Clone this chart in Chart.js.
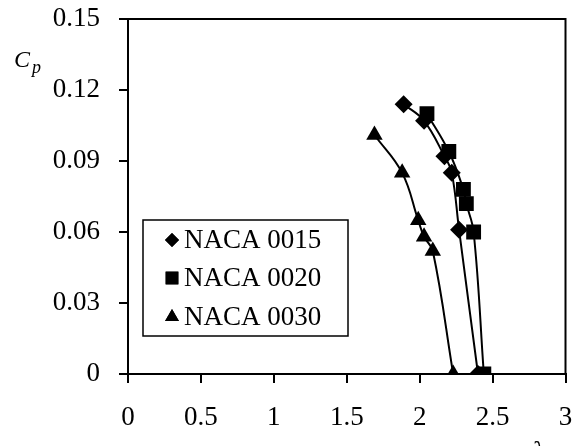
<!DOCTYPE html>
<html>
<head>
<meta charset="utf-8">
<script src="https://cdn.jsdelivr.net/npm/chart.js@4"></script>
<style>
  html, body { margin: 0; padding: 0; background: #fff; }
</style>
</head>
<body>
<canvas id="myChart" width="576" height="446"></canvas>
<script>
// datos
const naca0015X = [1.89, 2.03, 2.17, 2.22, 2.27, 2.40];
const naca0015Y = [0.114, 0.107, 0.092, 0.085, 0.061, 0];
const naca0020X = [2.05, 2.20, 2.30, 2.32, 2.37, 2.44];
const naca0020Y = [0.110, 0.094, 0.078, 0.072, 0.060, 0];
const naca0030X = [1.69, 1.88, 1.99, 2.03, 2.09, 2.23];
const naca0030Y = [0.101, 0.085, 0.065, 0.058, 0.052, 0];
const names = ['NACA 0015', 'NACA 0020', 'NACA 0030'];
const xTicks = [0, 0.5, 1, 1.5, 2, 2.5, 3];
const yTicks = [0, 0.03, 0.06, 0.09, 0.12, 0.15];

const FONT = "'Liberation Serif', 'Times New Roman', serif";

function pts(xs, ys) {
    return xs.map((x, i) => ({ x: x, y: ys[i] }));
}

function serie(label, xs, ys, shape, r) {
    return {
        label: label,
        data: pts(xs, ys),
        showLine: true,
        tension: 0.4,
        borderColor: '#000',
        borderWidth: 2,
        backgroundColor: '#000',
        pointStyle: shape,
        pointRadius: r,
        pointBorderWidth: 0,
        pointBackgroundColor: '#000'
    };
}

// marco, leyenda y titulos de ejes
const extras = {
    id: 'extras',
    afterDraw(chart) {
        const c = chart.ctx;
        const a = chart.chartArea;
        c.save();
        c.strokeStyle = '#000';
        c.lineWidth = 2;
        c.strokeRect(a.left, a.top, a.right - a.left, a.bottom - a.top);

        // leyenda
        const bx = 143, by = 220, bw = 205, bh = 116;
        c.fillStyle = '#fff';
        c.fillRect(bx, by, bw, bh);
        c.lineWidth = 1.5;
        c.strokeRect(bx, by, bw, bh);
        c.fillStyle = '#000';
        c.font = '27px ' + FONT;
        c.textBaseline = 'middle';
        const rows = [240, 278, 317];
        const styles = ['rectRot', 'rect', 'triangle'];
        const radii = [7, 9, 8];
        names.forEach((n, i) => {
            Chart.helpers.drawPoint(c, { pointStyle: styles[i], radius: radii[i], borderWidth: 0 }, 172, rows[i]);
            c.fill();
            c.fillText(n, 184, rows[i] + 1);
        });

        // C_p y lambda
        c.font = 'italic 24px ' + FONT;
        c.textBaseline = 'alphabetic';
        c.fillText('C', 14, 67);
        c.font = 'italic 18px ' + FONT;
        c.fillText('p', 32, 73);
        c.font = 'italic 28px ' + FONT;
        c.fillText('λ', 532, 460);
        c.restore();
    }
};

const ctx = document.getElementById('myChart');

const myChart = new Chart(ctx, {
    type: 'scatter',
    data: {
        datasets: [
            serie(names[0], naca0015X, naca0015Y, 'rectRot', 9),
            serie(names[1], naca0020X, naca0020Y, 'rect', 10.5),
            serie(names[2], naca0030X, naca0030Y, 'triangle', 9.5)
        ]
    },
    options: {
        responsive: false,
        animation: false,
        layout: { padding: { top: 19, right: 6, left: 0, bottom: 0 } },
        plugins: {
            legend: { display: false },
            tooltip: { enabled: false }
        },
        scales: {
            x: {
                type: 'linear',
                min: 0,
                max: 3,
                afterBuildTicks: s => { s.ticks = xTicks.map(v => ({ value: v })); },
                afterFit: s => { s.height = 72; s.paddingLeft = 0; s.paddingRight = 0; },
                border: { color: '#000', width: 2 },
                grid: { drawOnChartArea: false, color: '#000', lineWidth: 2, tickLength: 9 },
                ticks: {
                    color: '#000', padding: 19, maxRotation: 0,
                    callback: v => String(v),
                    font: { family: FONT, size: 27 }
                }
            },
            y: {
                type: 'linear',
                min: 0,
                max: 0.15,
                afterBuildTicks: s => { s.ticks = yTicks.map(v => ({ value: v })); },
                afterFit: s => { s.width = 128; s.paddingTop = 0; s.paddingBottom = 0; },
                border: { color: '#000', width: 2 },
                grid: { drawOnChartArea: false, color: '#000', lineWidth: 2, tickLength: 9 },
                ticks: {
                    color: '#000', padding: 19,
                    callback: v => String(v),
                    font: { family: FONT, size: 27 }
                }
            }
        }
    },
    plugins: [extras]
});
</script>
</body>
</html>
